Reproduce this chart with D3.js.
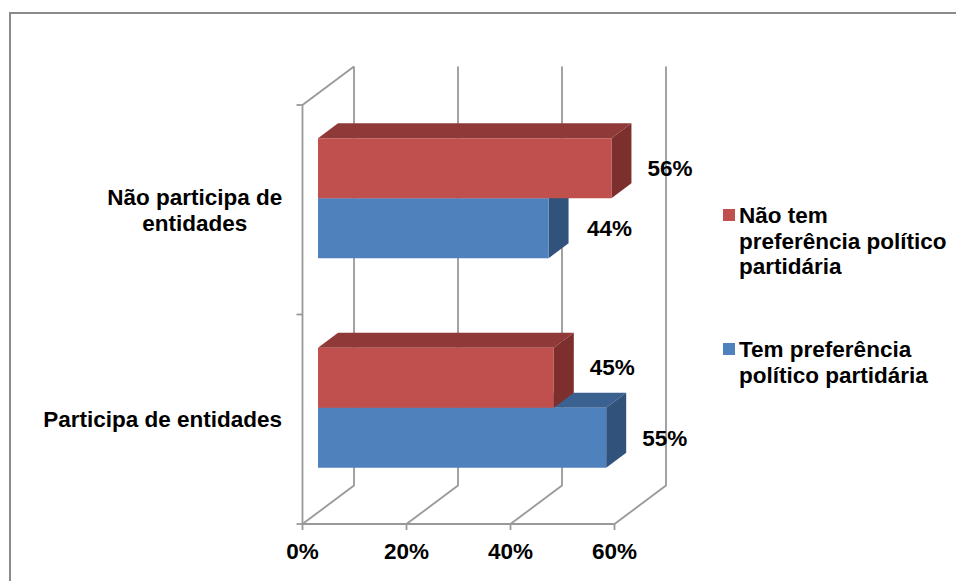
<!DOCTYPE html>
<html><head><meta charset="utf-8">
<script src="https://cdn.jsdelivr.net/npm/d3@7"></script>
<style>html,body{margin:0;padding:0;background:#fff}svg{display:block}
text{font-family:"Liberation Sans",Arial,sans-serif;font-weight:bold;fill:#000}</style>
</head><body><svg id="c" width="956" height="581"></svg>
<script>
const categories = ["Não participa de entidades", "Participa de entidades"];
const categoryLines = [["Não participa de","entidades"],["Participa de entidades"]];
const seriesNames = ["Não tem preferência político partidária","Tem preferência político partidária"];
const legendLines = [["Não tem","preferência político","partidária"],["Tem preferência","político partidária"]];
const naoTem = [56, 45];
const tem = [44, 55];
const xTicks = [0, 20, 40, 60];
const frontColors = ["#C0504D","#4F81BD"];
const topColors = ["#8F3A38","#3A6190"];
const sideColors = ["#7D2F2D","#31527B"];

const svg = d3.select("#c");
const FS = 22.5;
const x = d3.scaleLinear().domain([0,60]).range([302.5,614.5]);
const barX = d3.scaleLinear().domain([0,60]).range([318,632.4]);
const y = d3.scaleBand().domain(categories).range([105,524]);
const ser = d3.scaleBand().domain([0,1]).range([-60,60]);
const wall = {dx:51.5, dy:-38.5};
const barOff = {dy:-11.5};
const barDepth = {dx:20, dy:-15};
const grid = "#999999";

// frame
svg.append("path").attr("d","M10,581V13H956").attr("fill","none").attr("stroke","#8a8a8a").attr("stroke-width",2);

// walls
const yTop = y.range()[0], yBot = y.range()[1];
const g = svg.append("g").attr("fill","none").attr("stroke",grid).attr("stroke-width",1.8);
xTicks.forEach(t=>{
  g.append("path").attr("d",`M${x(t)},${yBot}L${x(t)+wall.dx},${yBot+wall.dy}V${yTop+wall.dy}`);
  g.append("path").attr("d",`M${x(t)},${yBot}v6`);
});
g.append("path").attr("d",`M${x(0)+wall.dx},${yTop+wall.dy}L${x(0)},${yTop}V${yBot}H${x(60)}`);
[yTop,(yTop+yBot)/2,yBot].forEach(v=>g.append("path").attr("d",`M${x(0)-6},${v}H${x(0)}`));

// bars
function bar(cat,si,v){
  const cy = y(cat)+y.bandwidth()/2+barOff.dy;
  const y0 = cy+ser(si), h = ser.bandwidth();
  const L = barX(0), R = barX(v);
  const d = barDepth;
  const b = svg.append("g");
  b.append("path").attr("d",`M${L},${y0}l${d.dx},${d.dy}H${R+d.dx}L${R},${y0}Z`).attr("fill",topColors[si]);
  b.append("path").attr("d",`M${R},${y0}l${d.dx},${d.dy}v${h}l${-d.dx},${-d.dy}Z`).attr("fill",sideColors[si]);
  b.append("rect").attr("x",L).attr("y",y0).attr("width",R-L).attr("height",h).attr("fill",frontColors[si]);
  // the labels of the two shorter bars are placed by hand in the reference
  const lift = (si===0 && v===45) ? -11 : 0;
  const push = (si===1 && v===44) ? 2.5 : 0;
  svg.append("text").attr("x",R+d.dx+16+push).attr("y",y0+h/2+8+lift).attr("font-size",FS).text(v+"%");
}
[1,0].forEach(i=>{ const c=categories[i]; bar(c,1,tem[i]); bar(c,0,naoTem[i]); });

// x labels
xTicks.forEach(t=>svg.append("text").attr("x",x(t)).attr("y",558.5).attr("text-anchor","middle").attr("font-size",FS).text(t+"%"));

// category labels
categories.forEach((c,i)=>{
  const lines = categoryLines[i];
  const cy = y(c)+y.bandwidth()/2;
  lines.forEach((l,j)=>svg.append("text").attr("x",lines.length>1?194.7:282).attr("y",cy+8+(j-(lines.length-1)/2)*26)
    .attr("text-anchor",lines.length>1?"middle":"end").attr("font-size",FS).text(l));
});

// legend
const legY = [215,349];
seriesNames.forEach((s,i)=>{
  svg.append("rect").attr("x",723).attr("y",legY[i]-6).attr("width",12).attr("height",12).attr("fill",frontColors[i]);
  legendLines[i].forEach((l,j)=>svg.append("text").attr("x",739).attr("y",legY[i]+8+j*25.7).attr("font-size",FS).text(l));
});
</script></body></html>
